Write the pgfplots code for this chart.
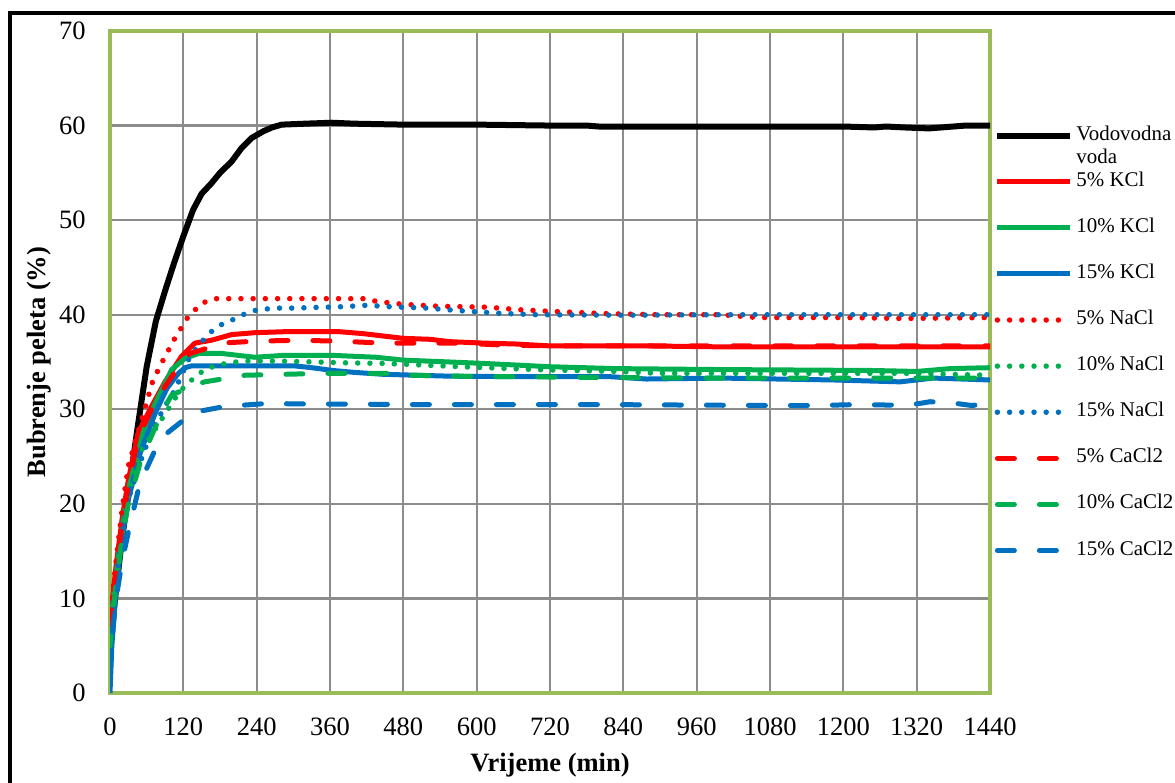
\documentclass[border=0pt]{standalone}
\usepackage{fontspec}
\setmainfont{Liberation Serif}
\usepackage{pgfplots}
\pgfplotsset{compat=1.18}
\definecolor{cred}{HTML}{FF0000}
\definecolor{cgreen}{HTML}{00B050}
\definecolor{cblue}{HTML}{0070C0}
\definecolor{framegreen}{HTML}{9BBB59}
\definecolor{gridgray}{HTML}{8C8C8C}
\begin{document}
\begin{tikzpicture}
\useasboundingbox (0,0) rectangle (587.5bp,391.5bp);
\clip (0,0) rectangle (587.5bp,391.5bp);
\fill[white] (0,0) rectangle (587.5bp,391.5bp);
\draw[line width=2bp] (5bp,-20bp) rectangle (620bp,384.75bp);
\begin{axis}[
  at={(55bp,45bp)}, anchor=south west,
  scale only axis, width=440bp, height=331bp,
  xmin=0, xmax=1440, ymin=0, ymax=70,
  xtick={0,120,...,1440}, ytick={0,10,...,70},
  grid=major,
  major grid style={color=gridgray, line width=1.1bp},
  axis line style={color=framegreen, line width=2bp},
  tick style={draw=none},
  /pgf/number format/assume math mode=true,
  /pgf/number format/set thousands separator={},
  ticklabel style={font=\fontsize{13.3}{16}\selectfont},
  xticklabel style={anchor=base, yshift=-21bp, inner sep=0pt},
  yticklabel style={anchor=east, xshift=-12bp, inner sep=0pt},
  xlabel={Vrijeme (min)},
  ylabel={Bubrenje peleta (\%)},
  label style={font=\bfseries\fontsize{13.3}{16}\selectfont},
  x label style={at={([yshift=-39bp]axis description cs:0.5,0)}, anchor=base},
  y label style={at={([xshift=-32.5bp]axis description cs:0,0.5)}, anchor=base, rotate=0},
  legend image code/.code={\draw[#1] (0bp,0bp) -- (36.5bp,0bp);},
  legend cell align=left,
  legend style={at={(1.00455,0.8569)}, anchor=north west, draw=none, fill=none,
    inner sep=0pt, row sep=13.55bp, column sep=0pt,
    font=\fontsize{10.5}{11.6}\selectfont,
    nodes={inner sep=0pt, text height=7bp, text depth=2.5bp},
    /tikz/every odd column/.style={column sep=1.5bp}},
  every axis plot/.append style={line join=round},
]
% Vodovodna voda
\addplot[black, line width=3bp] coordinates {
(0,4)(5,8)(10,11)(20,16.5)(30,21)(45,28)(60,34.5)(75,39.3)(90,42.5)(105,45.5)(120,48.3)(136,51.1)(150,52.8)(166,53.9)(180,55)(199,56.2)(215,57.6)(232,58.7)(251,59.4)(265,59.8)(281,60.1)(319,60.2)(363,60.3)(400,60.2)(480,60.1)(600,60.1)(720,60.0)(780,60.0)(800,59.9)(1000,59.9)(1200,59.9)(1250,59.8)(1270,59.9)(1300,59.8)(1340,59.7)(1360,59.8)(1400,60.0)(1440,60.0)};
\addlegendentry{\smash{\parbox[t]{60bp}{Vodovodna\\voda}}}
% 5% KCl
\addplot[cred, line width=2.5bp] coordinates {
(0,7)(5,10.5)(10,13.5)(20,18.5)(30,22.5)(46,27.5)(68,30.3)(90,32.9)(117,35.6)(139,37)(166,37.3)(199,37.9)(237,38.1)(284,38.2)(376,38.2)(414,38.0)(447,37.75)(480,37.5)(524,37.4)(556,37.15)(611,37.0)(665,36.9)(720,36.7)(878,36.7)(1000,36.6)(1440,36.6)};
\addlegendentry{5\% KCl}
% 10% KCl
\addplot[cgreen, line width=2.5bp] coordinates {
(0,6)(5,9.5)(10,12.5)(20,17.5)(30,21.5)(57,28.2)(79,31.3)(101,34.2)(123,35.4)(145,35.9)(183,35.9)(210,35.7)(237,35.5)(284,35.7)(365,35.7)(436,35.5)(480,35.2)(556,35.0)(611,34.85)(720,34.5)(829,34.3)(1000,34.2)(1129,34.15)(1250,34.1)(1320,34.0)(1375,34.3)(1440,34.4)};
\addlegendentry{10\% KCl}
% 15% KCl
\addplot[cblue, line width=2.5bp] coordinates {
(0,0)(3,5)(10,11)(20,16.5)(30,20.5)(50,25.5)(74,29.6)(93,32.2)(112,33.8)(123,34.4)(134,34.6)(210,34.6)(300,34.6)(330,34.4)(365,34.1)(400,33.9)(447,33.7)(556,33.5)(665,33.45)(818,33.45)(878,33.2)(1000,33.3)(1184,33.1)(1293,32.9)(1347,33.3)(1440,33.1)};
\addlegendentry{15\% KCl}
% 5% NaCl
\addplot[cred, line width=2.75bp, line cap=round, dash pattern=on 0bp off 6.1bp] coordinates {
(0,7.5)(5,11)(10,14)(20,19.5)(30,24)(50,28.5)(70,33)(87,35.2)(106,37.5)(128,39.8)(150,41.2)(170,41.7)(240,41.7)(420,41.7)(436,41.4)(480,41.1)(535,40.9)(616,40.8)(676,40.5)(741,40.3)(818,40.1)(900,40.0)(1000,40.0)(1060,39.7)(1200,39.7)(1300,39.6)(1440,39.7)};
\addlegendentry{5\% NaCl}
% 10% NaCl
\addplot[cgreen, line width=2.75bp, line cap=round, dash pattern=on 0bp off 6.1bp] coordinates {
(0,5.5)(5,9)(10,12)(20,17)(30,21)(50,25.5)(65,27)(82,28.7)(112,31.7)(125,32.6)(139,33.4)(155,34.2)(177,34.7)(196,34.9)(216,35.1)(275,35.1)(338,35.0)(393,34.9)(447,34.85)(502,34.7)(611,34.4)(720,34.15)(829,34.0)(900,33.8)(1300,33.8)(1440,33.6)};
\addlegendentry{10\% NaCl}
% 15% NaCl
\addplot[cblue, line width=2.75bp, line cap=round, dash pattern=on 0bp off 6.1bp] coordinates {
(0,4.5)(5,9)(10,12)(20,17)(30,20.5)(50,24.5)(70,28)(96,31)(106,32)(131,35.6)(155,37.5)(169,38.4)(186,39.1)(202,39.5)(221,40.1)(240,40.5)(270,40.7)(300,40.7)(382,40.85)(420,41.0)(458,40.85)(518,40.7)(578,40.4)(638,40.15)(698,40.0)(845,39.95)(1000,40.0)(1440,40.0)};
\addlegendentry{15\% NaCl}
% 5% CaCl2
\addplot[cred, line width=2.5bp, line cap=round, dash pattern=on 8.5bp off 12.5bp] coordinates {
(0,6.5)(5,10)(10,13)(20,18)(30,22)(46,27)(68,30)(90,32.4)(109,34.2)(131,35.9)(166,36.6)(183,37.0)(237,37.2)(308,37.3)(376,37.2)(447,37.0)(573,37.0)(640,36.8)(720,36.7)(1440,36.7)};
\addlegendentry{5\% CaCl2}
% 10% CaCl2
\addplot[cgreen, line width=2.5bp, line cap=round, dash pattern=on 8.5bp off 12.5bp] coordinates {
(0,5)(5,8.5)(10,11.5)(20,16.5)(30,20)(50,24.5)(70,27.5)(90,30.3)(101,31.5)(139,32.6)(155,32.9)(221,33.6)(286,33.7)(350,33.8)(450,33.8)(491,33.6)(567,33.5)(829,33.35)(1000,33.3)(1440,33.3)};
\addlegendentry{10\% CaCl2}
% 15% CaCl2
\addplot[cblue, line width=2.5bp, line cap=round, dash pattern=on 8.5bp off 12.5bp] coordinates {
(0,2)(5,7)(10,10)(20,14)(33,17.9)(49,22.2)(76,26)(90,27.3)(123,29)(139,29.7)(188,30.3)(210,30.4)(254,30.6)(500,30.5)(800,30.5)(1075,30.4)(1162,30.4)(1220,30.5)(1271,30.45)(1309,30.45)(1342,30.8)(1375,30.7)(1410,30.4)(1440,30.6)};
\addlegendentry{15\% CaCl2}
\end{axis}
\end{tikzpicture}
\end{document}
